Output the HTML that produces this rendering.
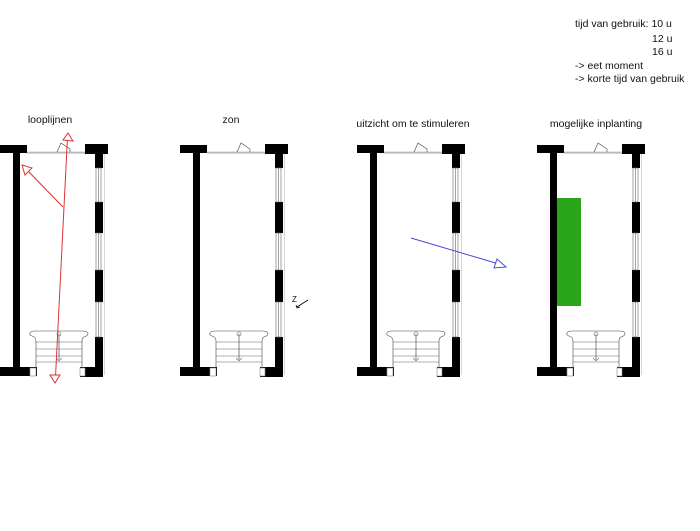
<!DOCTYPE html>
<html><head><meta charset="utf-8"><style>
html,body{margin:0;padding:0;background:#fff;width:700px;height:531px;overflow:hidden}
svg{display:block}
text{font-family:"Liberation Sans",sans-serif;font-size:10.5px;fill:#111}
</style></head><body>
<svg width="700" height="531" viewBox="0 0 700 531" xmlns="http://www.w3.org/2000/svg">
<defs>
<g id="plan">
  <rect x="0" y="145" width="27" height="8" fill="#000"/>
  <rect x="13" y="145" width="7" height="223" fill="#000"/>
  <rect x="0" y="367" width="37" height="9" fill="#000"/>
  <rect x="85" y="144" width="23" height="10" fill="#000"/>
  <rect x="95" y="153" width="8" height="15" fill="#000"/>
  <rect x="95" y="202" width="8" height="31" fill="#000"/>
  <rect x="95" y="270" width="8" height="32" fill="#000"/>
  <rect x="95" y="337" width="8" height="40" fill="#000"/>
  <rect x="80" y="367" width="23" height="10" fill="#000"/>
  <g stroke="#666" stroke-width="0.6" fill="none">
    <rect x="96" y="168" width="5" height="34"/>
    <rect x="96" y="233" width="5" height="37"/>
    <rect x="96" y="302" width="5" height="35"/>
    <line x1="98.5" y1="168" x2="98.5" y2="202"/>
    <line x1="98.5" y1="233" x2="98.5" y2="270"/>
    <line x1="98.5" y1="302" x2="98.5" y2="337"/>
    <line x1="104.5" y1="154" x2="104.5" y2="375" stroke="#bbb"/>
    <line x1="27" y1="153" x2="85" y2="153" stroke="#555"/>
    <line x1="27" y1="152" x2="85" y2="152" stroke="#999"/>
    <path d="M57 152 L61 143 L70 149 L70 152" stroke="#444"/>
    <path d="M36 368 L36 341 Q36 337 32 336 Q29 335 30 333 Q31 331 35 331 L82 331 Q87 331 88 333 Q88 336 84 337 Q82 338 82 341 L82 368" stroke="#444"/>
    <line x1="36" y1="342" x2="82" y2="342"/>
    <line x1="36" y1="349" x2="82" y2="349"/>
    <line x1="36" y1="356" x2="82" y2="356"/>
    <line x1="36" y1="362" x2="82" y2="362"/>
    <line x1="59" y1="334" x2="59" y2="360" stroke="#333"/>
    <circle cx="59" cy="334" r="2"/>
    <path d="M56 358 L59 361 L62 358"/>
    <rect x="30" y="368" width="6" height="8" fill="#fff" stroke="#888"/>
    <rect x="80" y="368" width="5" height="8" fill="#fff" stroke="#888"/>
  </g>
</g>
</defs>

<text x="575" y="27">tijd van gebruik: 10 u</text>
<text x="652" y="42">12 u</text>
<text x="652" y="55">16 u</text>
<text x="575" y="69">-&gt; eet moment</text>
<text x="575" y="82">-&gt; korte tijd van gebruik</text>

<text x="50" y="123" text-anchor="middle">looplijnen</text>
<text x="231" y="123" text-anchor="middle">zon</text>
<text x="413" y="127" text-anchor="middle">uitzicht om te stimuleren</text>
<text x="596" y="127" text-anchor="middle">mogelijke inplanting</text>

<use href="#plan"/>
<use href="#plan" transform="translate(180,0)"/>
<use href="#plan" transform="translate(357,0)"/>
<use href="#plan" transform="translate(537,0)"/>

<!-- red arrows -->
<g stroke="#d33" stroke-width="1" fill="#fff">
  <line x1="67.5" y1="137" x2="55.5" y2="377"/>
  <polygon points="68,133 63,140 73,141"/>
  <polygon points="55,383 50,375 60,375"/>
  <line x1="63" y1="207" x2="27" y2="170"/>
  <polygon points="22,165 25,175 32,168"/>
</g>

<!-- compass -->
<text x="292" y="302" style="font-size:8px">Z</text>
<g stroke="#000" stroke-width="0.8" fill="none">
  <line x1="297" y1="307" x2="308" y2="300"/>
  <path d="M296 305 L297 308 L300 307"/>
</g>

<!-- blue arrow -->
<g stroke="#4a4ad8" stroke-width="1" fill="#fff">
  <line x1="411" y1="238" x2="499" y2="264"/>
  <polygon points="506,267 497,259 494,268"/>
</g>

<!-- green planting -->
<rect x="557" y="198" width="24" height="108" fill="#2aa61a"/>
</svg>
</body></html>
